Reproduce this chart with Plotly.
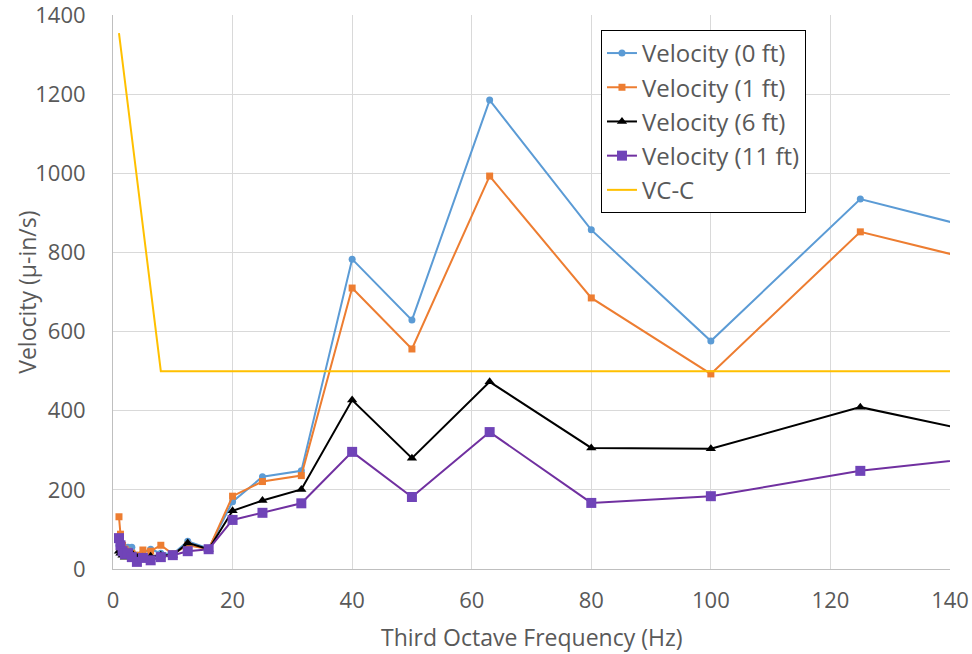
import plotly.graph_objects as go

freq = [1, 1.25, 1.6, 2, 2.5, 3.15, 4, 5, 6.3, 8, 10, 12.5, 16, 20, 25, 31.5,
        40, 50, 63, 80, 100, 125, 160]
v0 = [60, 50, 40, 45, 55, 55, 35, 40, 50, 40, 38, 70, 52, 170, 233, 248,
      783, 629, 1185, 857, 576, 935, 800]
v1 = [132, 88, 60, 50, 45, 40, 35, 48, 45, 60, 38, 60, 50, 184, 221, 236,
      710, 556, 993, 685, 493, 852, 722]
v6 = [45, 40, 35, 30, 35, 40, 30, 30, 32, 35, 35, 66, 50, 147, 173, 201,
      427, 280, 473, 306, 304, 409, 296]
v11 = [78, 60, 45, 38, 40, 30, 18, 28, 22, 30, 35, 45, 50, 124, 142, 166,
       296, 182, 346, 167, 184, 248, 306]
vc_freq = [1, 8, 160]
vc_val = [1354, 500, 500]

x_title = "Third Octave Frequency (Hz)"
y_title = "Velocity (μ-in/s)"

fig = go.Figure()
fig.add_trace(go.Scatter(x=freq, y=v0, name="Velocity (0 ft)", mode="lines+markers",
                         line=dict(color="#5B9BD5", width=2),
                         marker=dict(symbol="circle", size=7, color="#5B9BD5")))
fig.add_trace(go.Scatter(x=freq, y=v1, name="Velocity (1 ft)", mode="lines+markers",
                         line=dict(color="#ED7D31", width=2),
                         marker=dict(symbol="square", size=7, color="#ED7D31")))
fig.add_trace(go.Scatter(x=freq, y=v6, name="Velocity (6 ft)", mode="lines+markers",
                         line=dict(color="#000000", width=2),
                         marker=dict(symbol="triangle-up", size=9, color="#000000")))
fig.add_trace(go.Scatter(x=freq, y=v11, name="Velocity (11 ft)", mode="lines+markers",
                         line=dict(color="#7030A0", width=2),
                         marker=dict(symbol="square", size=10, color="#7044B8")))
fig.add_trace(go.Scatter(x=vc_freq, y=vc_val, name="VC-C", mode="lines",
                         line=dict(color="#FFC000", width=2)))

fig.update_layout(
    width=972, height=654,
    margin=dict(l=113, r=22, t=15, b=85),
    paper_bgcolor="white", plot_bgcolor="white",
    font=dict(family="Open Sans, sans-serif", color="#595959", size=22),
    legend=dict(x=0.583, y=0.973, xanchor="left", yanchor="top",
                bordercolor="#000000", borderwidth=1, bgcolor="white",
                font=dict(size=24, color="#595959"), itemwidth=30,
                entrywidth=200, entrywidthmode="pixels"),
    showlegend=True,
    annotations=[
        dict(text=x_title, xref="paper", yref="paper", x=0.5, y=-0.122,
             xanchor="center", yanchor="middle", showarrow=False,
             font=dict(size=23, color="#595959")),
        dict(text=y_title, xref="paper", yref="paper", x=-0.103, y=0.5,
             xanchor="center", yanchor="middle", showarrow=False, textangle=-90,
             font=dict(size=23, color="#595959")),
    ],
)
fig.update_xaxes(range=[0, 140], dtick=20, tick0=0, showgrid=True,
                 gridcolor="#D9D9D9", gridwidth=1, zeroline=False,
                 showline=True, linecolor="#BFBFBF", linewidth=1,
                 ticks="", automargin=False, ticklabelstandoff=12,
                 ticklabeloverflow="allow",
                 tickfont=dict(size=22, color="#595959"))
fig.update_yaxes(range=[0, 1400], dtick=200, showgrid=True,
                 gridcolor="#D9D9D9", gridwidth=1, zeroline=False,
                 showline=True, linecolor="#BFBFBF", linewidth=1,
                 ticks="", automargin=False, ticklabelstandoff=22,
                 ticklabeloverflow="allow",
                 tickfont=dict(size=22, color="#595959"))

fig.write_html("out.html", config={"displayModeBar": False},
               post_script="document.body.style.margin='0';document.body.style.overflow='hidden';")
